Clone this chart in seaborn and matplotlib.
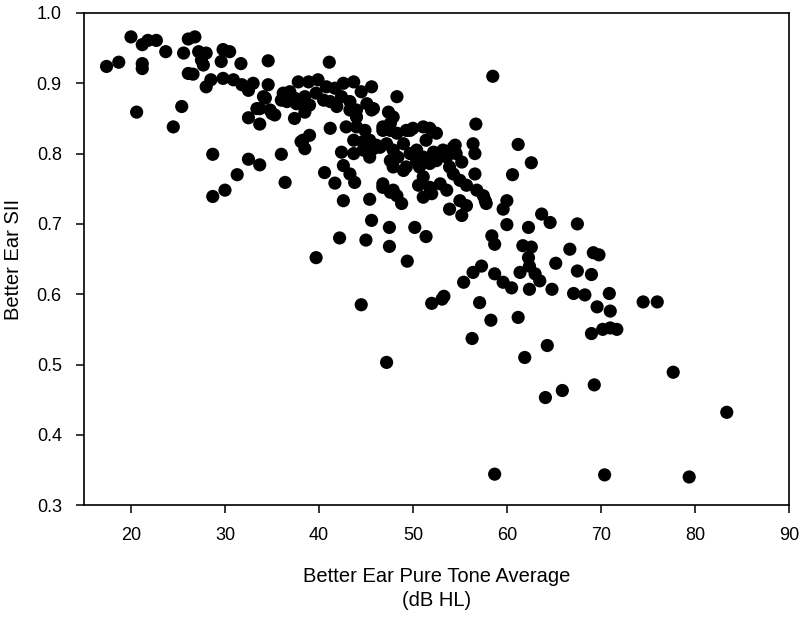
import matplotlib
matplotlib.use("Agg")
import matplotlib.pyplot as plt
import seaborn as sns
import pandas as pd

# Better ear pure tone average (dB HL)
pta = [
    17.4, 18.7, 20.0, 21.2, 21.2, 21.2, 21.8, 22.7, 23.7, 20.6, 25.6, 26.1, 26.8, 27.2, 28.0,
    27.5, 27.7, 26.1, 26.6, 29.8, 30.5, 29.6, 28.0, 28.5, 29.8, 25.4, 24.5, 28.7, 28.7, 30.0,
    31.7, 34.6, 30.9, 31.8, 32.5, 33.0, 34.6, 37.8, 38.9, 34.3, 33.7, 35.0, 36.0, 36.7, 37.4,
    38.5, 32.5, 33.7, 37.4, 38.5, 32.5, 33.7, 36.0, 31.3, 36.4, 38.1, 38.5, 39.0, 34.1, 33.4,
    34.8, 35.3, 36.2, 36.9, 36.6, 37.6, 38.5, 39.0, 39.7, 38.3, 39.7, 39.9,
    41.1, 40.5, 41.2, 41.9, 42.4, 43.3, 44.0, 45.1, 45.6, 40.8, 41.7, 42.6, 43.7, 44.5, 45.6,
    48.3, 41.2, 42.9, 44.0, 44.9, 43.7, 44.7, 45.4, 42.4, 43.7, 44.7, 45.8, 42.6, 43.3, 43.8,
    40.6, 41.7, 42.6, 45.4, 46.8, 47.6, 48.3, 48.8, 45.4, 45.8, 47.4, 47.9, 46.8, 47.6, 48.3,
    49.3, 47.6, 46.1, 46.5, 47.2, 47.9, 49.0, 48.4, 47.6, 49.3, 47.9, 49.0, 46.8, 47.9, 45.6,
    47.5, 42.2, 45.0, 47.5, 49.4, 44.5, 47.2, 43.3, 44.0, 46.8,
    50.0, 51.1, 51.8, 52.5, 51.4, 49.7, 50.4, 50.7, 49.7, 52.2, 52.5, 53.6, 54.5, 54.6, 55.2,
    53.9, 54.3, 55.0, 56.7, 56.4, 56.6, 56.6, 51.1, 50.6, 51.8, 52.9, 53.6, 51.1, 55.7, 56.8,
    57.7, 55.0, 55.7, 53.9, 55.2, 53.2, 54.3, 51.8, 52.0, 57.5, 57.8, 58.5, 50.2, 51.4, 52.0,
    53.1, 58.4, 58.7, 56.4, 57.3, 58.7, 55.4, 57.1, 58.3, 56.3, 58.7, 59.6, 53.3, 50.4, 51.1,
    61.2, 62.6, 60.6, 60.0, 59.6, 60.0, 62.3, 63.7, 64.6, 67.5, 61.7, 62.6, 62.3, 62.4, 66.7,
    69.2, 69.8, 65.2, 67.5, 69.0, 61.4, 63.0, 63.5, 60.5, 62.4, 64.8, 67.1, 68.3, 70.9, 74.5,
    76.0, 61.2, 64.3, 61.9, 69.6, 71.0, 69.0, 70.2, 71.0, 71.7, 77.7, 83.4, 69.3, 65.9, 64.1,
    70.4, 79.4,
]

# Better ear SII
sii = [
    0.924, 0.930, 0.966, 0.955, 0.928, 0.921, 0.961, 0.961, 0.945, 0.859, 0.943, 0.963, 0.966, 0.945, 0.943,
    0.933, 0.926, 0.914, 0.913, 0.948, 0.945, 0.931, 0.895, 0.905, 0.907, 0.867, 0.838, 0.799, 0.739, 0.748,
    0.928, 0.932, 0.905, 0.898, 0.890, 0.900, 0.898, 0.902, 0.902, 0.879, 0.864, 0.857, 0.876, 0.886, 0.879,
    0.871, 0.851, 0.842, 0.850, 0.859, 0.792, 0.784, 0.799, 0.770, 0.759, 0.817, 0.807, 0.826, 0.881, 0.864,
    0.862, 0.855, 0.886, 0.888, 0.874, 0.871, 0.881, 0.869, 0.886, 0.819, 0.652, 0.905,
    0.930, 0.876, 0.874, 0.867, 0.881, 0.874, 0.862, 0.871, 0.862, 0.895, 0.893, 0.900, 0.902, 0.888, 0.895,
    0.881, 0.836, 0.838, 0.838, 0.833, 0.819, 0.817, 0.819, 0.802, 0.800, 0.805, 0.807, 0.783, 0.771, 0.759,
    0.773, 0.758, 0.733, 0.735, 0.757, 0.745, 0.740, 0.729, 0.795, 0.864, 0.859, 0.852, 0.838, 0.833, 0.829,
    0.833, 0.843, 0.812, 0.809, 0.814, 0.805, 0.814, 0.795, 0.790, 0.781, 0.781, 0.776, 0.752, 0.748, 0.705,
    0.695, 0.680, 0.677, 0.668, 0.647, 0.585, 0.503, 0.862, 0.852, 0.833,
    0.836, 0.838, 0.836, 0.829, 0.819, 0.833, 0.790, 0.781, 0.800, 0.802, 0.790, 0.795, 0.812, 0.800, 0.788,
    0.781, 0.771, 0.762, 0.842, 0.814, 0.800, 0.771, 0.767, 0.755, 0.752, 0.757, 0.748, 0.738, 0.755, 0.748,
    0.733, 0.733, 0.726, 0.721, 0.712, 0.805, 0.809, 0.786, 0.743, 0.740, 0.729, 0.910, 0.695, 0.682, 0.587,
    0.593, 0.683, 0.671, 0.631, 0.640, 0.629, 0.617, 0.588, 0.563, 0.537, 0.344, 0.617, 0.597, 0.805, 0.795,
    0.813, 0.787, 0.770, 0.733, 0.721, 0.699, 0.695, 0.714, 0.702, 0.700, 0.669, 0.667, 0.652, 0.640, 0.664,
    0.659, 0.656, 0.644, 0.633, 0.628, 0.631, 0.629, 0.619, 0.609, 0.607, 0.607, 0.601, 0.599, 0.601, 0.589,
    0.589, 0.567, 0.527, 0.510, 0.582, 0.576, 0.544, 0.550, 0.552, 0.550, 0.489, 0.432, 0.471, 0.463, 0.453,
    0.343, 0.340,
]

x_ticks = [20, 30, 40, 50, 60, 70, 80, 90]
y_ticks = [0.3, 0.4, 0.5, 0.6, 0.7, 0.8, 0.9, 1.0]
x_label = "Better Ear Pure Tone Average\n(dB HL)"
y_label = "Better Ear SII"

df = pd.DataFrame({"pta": pta, "sii": sii})

sns.set_theme(style="white")
plt.rcParams["font.family"] = ["Liberation Sans", "DejaVu Sans"]

fig = plt.figure(figsize=(8.0, 6.19), dpi=100)
ax = fig.add_axes([0.105, 0.184, 0.881, 0.795])

sns.scatterplot(data=df, x="pta", y="sii", ax=ax, color="black", s=90,
                linewidth=0, edgecolor="none", alpha=1.0)

ax.set_xlim(15, 90)
ax.set_ylim(0.3, 1.0)
ax.set_xticks(x_ticks)
ax.set_yticks(y_ticks)
ax.set_xticklabels([str(t) for t in x_ticks])
ax.set_yticklabels([f"{t:.1f}" for t in y_ticks])

for sp in ax.spines.values():
    sp.set_color("black")
    sp.set_linewidth(1.2)
    sp.set_visible(True)

ax.tick_params(axis="both", which="both", direction="out", length=6, width=1.1,
               colors="black", labelsize=13, top=False, right=False,
               bottom=True, left=True, pad=10)
ax.set_xlabel(x_label, fontsize=14.5, color="black", labelpad=16, linespacing=1.35)
ax.set_ylabel(y_label, fontsize=14.5, color="black", labelpad=10)
ax.grid(False)

fig.savefig("out.png", dpi=100, facecolor="white")
